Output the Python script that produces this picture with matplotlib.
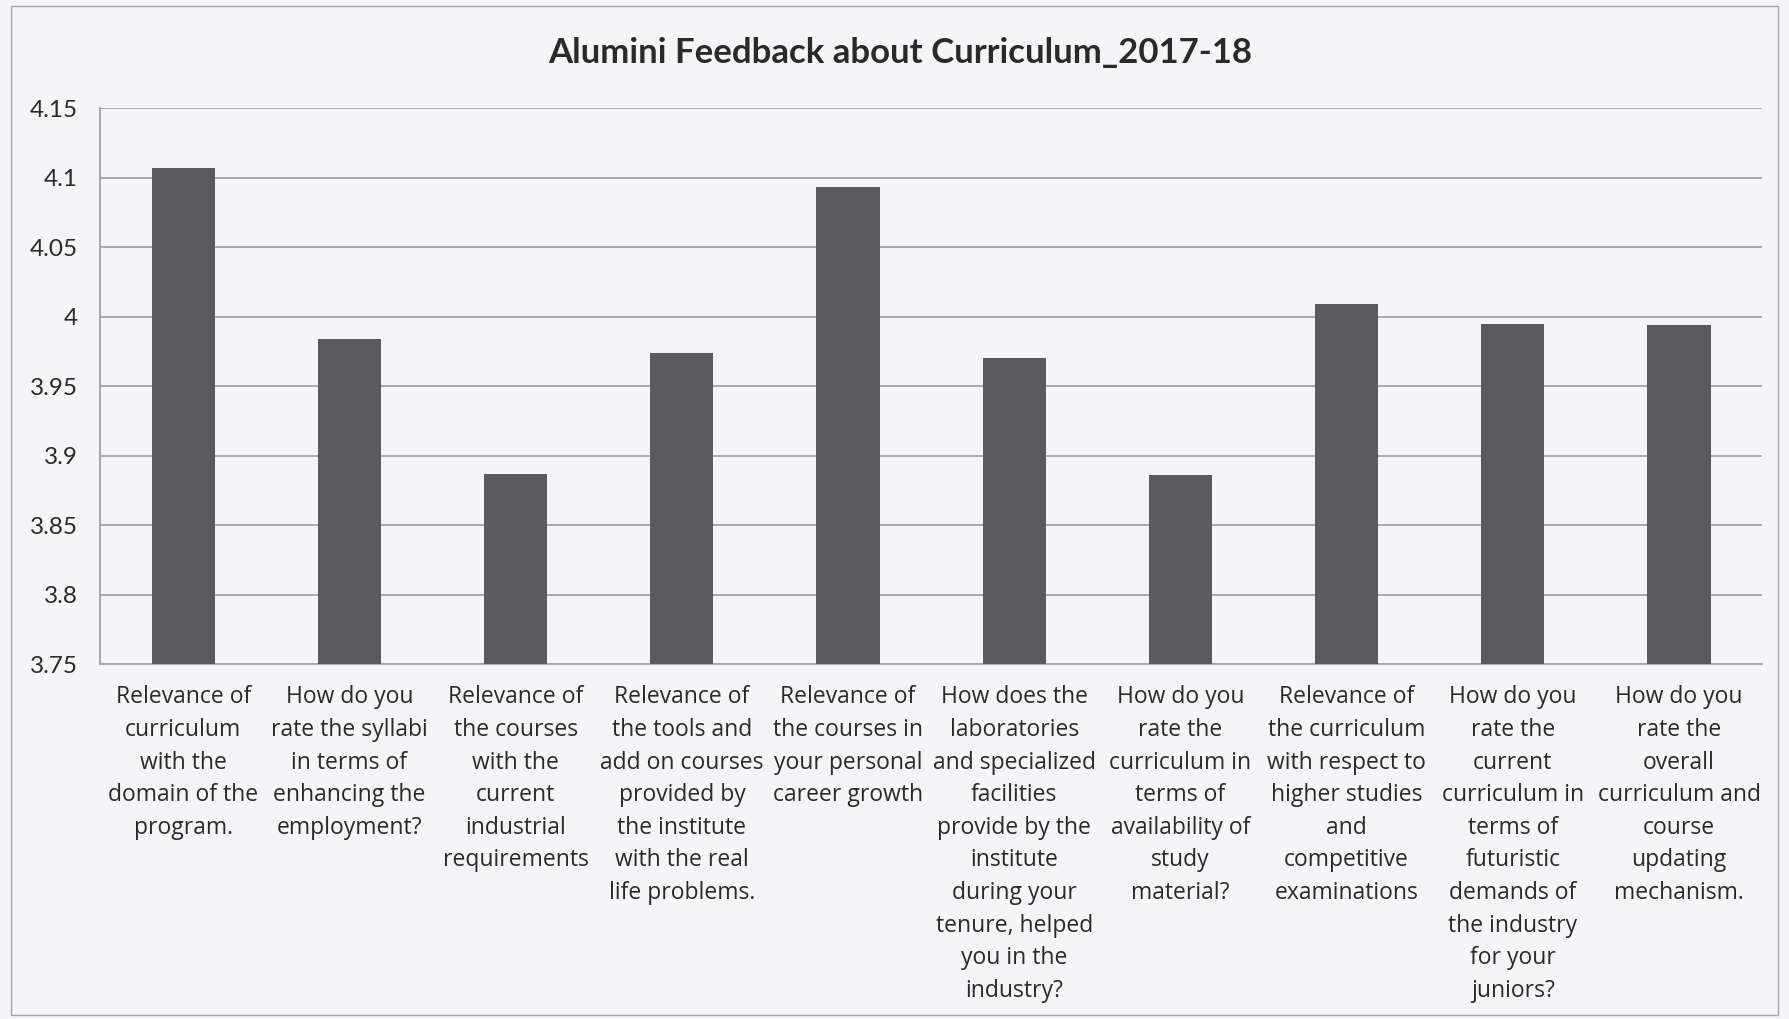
import matplotlib
matplotlib.use("agg")
import matplotlib.pyplot as plt
import matplotlib.ticker as ticker
from matplotlib.patches import Rectangle
import numpy as np

# Category labels (wrapped as in the original chart)
LABELS = [
    "Relevance of\ncurriculum\nwith the\ndomain of the\nprogram.",
    "How do you\nrate the syllabi\nin terms of\nenhancing the\nemployment?",
    "Relevance of\nthe courses\nwith the\ncurrent\nindustrial\nrequirements",
    "Relevance of\nthe tools and\nadd on courses\nprovided by\nthe institute\nwith the real\nlife problems.",
    "Relevance of\nthe courses in\nyour personal\ncareer growth",
    "How does the\nlaboratories\nand specialized\nfacilities\nprovide by the\ninstitute\nduring your\ntenure, helped\nyou in the\nindustry?",
    "How do you\nrate the\ncurriculum in\nterms of\navailability of\nstudy\nmaterial?",
    "Relevance of\nthe curriculum\nwith respect to\nhigher studies\nand\ncompetitive\nexaminations",
    "How do you\nrate the\ncurrent\ncurriculum in\nterms of\nfuturistic\ndemands of\nthe industry\nfor your\njuniors?",
    "How do you\nrate the\noverall\ncurriculum and\ncourse\nupdating\nmechanism.",
]

# Average feedback score per question
SCORES = [4.107, 3.984, 3.887, 3.974, 4.093, 3.970, 3.886, 4.009, 3.995, 3.994]

TITLE = "Alumini Feedback about Curriculum_2017-18"
Y_MIN, Y_MAX, Y_STEP = 3.75, 4.15, 0.05

BG = "#f5f4f6"
BAR_COLOR = "#5b5a5c"
GRID_COLOR = "#a3a2a4"
TEXT_COLOR = "#2a2a2a"

plt.rcParams["font.family"] = ["Lato", "DejaVu Sans"]

fig = plt.figure(figsize=(17.89, 10.19), dpi=100, facecolor=BG)
ax = fig.add_axes([0.056, 0.348, 0.929, 0.546])
ax.set_facecolor(BG)

x = np.arange(len(SCORES))
ax.bar(x, np.array(SCORES) - Y_MIN, bottom=Y_MIN, width=0.38,
       color=BAR_COLOR, zorder=3)

ax.set_xlim(-0.5, len(SCORES) - 0.5)
ax.set_ylim(Y_MIN, Y_MAX)
ax.yaxis.set_major_locator(ticker.MultipleLocator(Y_STEP))
ax.yaxis.set_major_formatter(ticker.FuncFormatter(lambda v, _: f"{v:g}"))
ax.grid(axis="y", color=GRID_COLOR, linewidth=1.3, zorder=0)

ax.set_xticks(x)
ax.set_xticklabels(LABELS, fontsize=16.5, color=TEXT_COLOR, linespacing=1.48,
                   va="top", ha="center", family=["Open Sans", "DejaVu Sans"])
ax.tick_params(axis="x", length=0, pad=15)
ax.tick_params(axis="y", length=0, pad=16, labelsize=17.5, labelcolor=TEXT_COLOR)

for side in ("top", "right"):
    ax.spines[side].set_visible(False)
for side in ("left", "bottom"):
    ax.spines[side].set_color(GRID_COLOR)
    ax.spines[side].set_linewidth(1.3)

fig.text(0.503, 0.948, TITLE, ha="center", va="center", fontsize=25,
         fontweight="bold", color=TEXT_COLOR)

# thin chart-area frame
fig.patches.append(Rectangle((0.006, 0.004), 0.988, 0.99, transform=fig.transFigure,
                             fill=False, edgecolor="#a8a7a9", linewidth=1.0))

fig.savefig("out.png", dpi=100, facecolor=BG)
